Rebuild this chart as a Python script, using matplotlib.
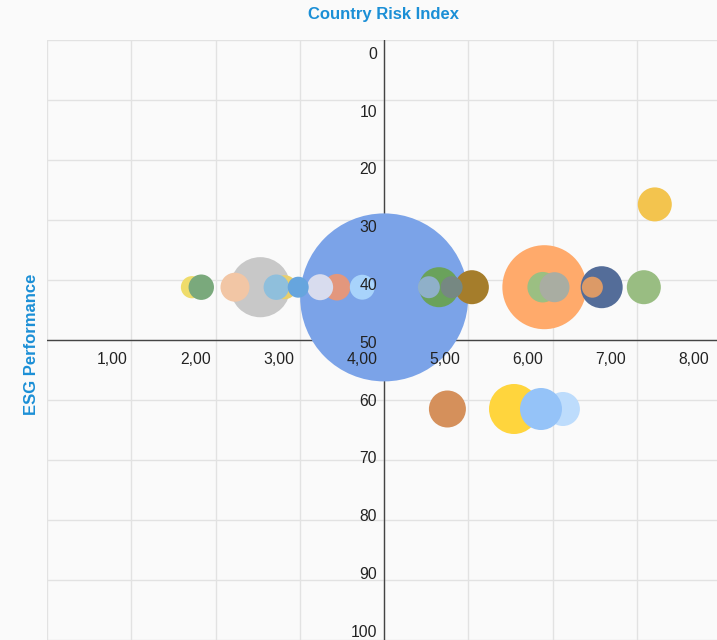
import numpy as np
import matplotlib
matplotlib.use('Agg')
import matplotlib.pyplot as plt

plt.rcParams['font.family'] = ['Liberation Sans', 'DejaVu Sans']

# bubble data (list order = drawing order)
risk = [4.00, 5.90, 2.53, 5.54, 6.12, 5.86, 6.58, 4.65, 4.75, 7.21, 7.08, 5.04, 5.88,
        6.02, 2.23, 3.44, 2.82, 2.72, 3.24, 3.74, 1.72, 1.83, 4.53, 4.80, 2.98, 6.47]
esg = [42.9, 41.2, 41.2, 61.5, 61.5, 61.5, 41.2, 41.2, 61.5, 27.4, 41.2, 41.2, 41.2,
       41.2, 41.2, 41.2, 41.2, 41.2, 41.2, 41.2, 41.2, 41.2, 41.2, 41.2, 41.2, 41.2]
weight = [100, 25, 12.8, 8.86, 4.1, 6.25, 6.25, 5.67, 4.85, 4.1, 4.1, 4.1, 3.3,
          3.19, 2.98, 2.5, 2.04, 2.29, 2.4, 2.2, 1.75, 2.29, 1.71, 1.71, 1.56, 1.56]
colors = ['#7ba3e8', '#ffaa6b', '#c8c8c8', '#ffd53d', '#bddcfc', '#95c3f8', '#546d99',
          '#6aa25b', '#d5905b', '#f3c44e', '#99bd82', '#a57d2b', '#9bbf82', '#a9ada2',
          '#f2c6a5', '#e3977d', '#e9cf6c', '#8fbfdc', '#d8dcee', '#a8d3fb', '#efdc6b',
          '#7aa97c', '#8fb0c9', '#768882', '#66a5de', '#dc9a67']

x_ticks = [1, 2, 3, 4, 5, 6, 7, 8]
y_ticks = [0, 10, 20, 30, 40, 50, 60, 70, 80, 90, 100]

W, H, DPI = 717, 640, 100
bg = '#fafafa'
blue_txt = '#1b8fd6'
max_r = 84  # radius in px of the largest bubble

fig = plt.figure(figsize=(W/DPI, H/DPI), dpi=DPI, facecolor=bg)
ax = fig.add_axes([47/W, 0, 670/W, 600/H], facecolor=bg)

ax.set_xlim(0, 7.948)
ax.set_ylim(99.4, 0)
ax.set_xticks(range(0, 8))
ax.set_yticks(y_ticks)
ax.tick_params(length=0, labelbottom=False, labelleft=False)
ax.grid(True, color='#e2e2e2', linewidth=1.0, zorder=0)
ax.set_axisbelow(True)
for s in ax.spines.values():
    s.set_visible(False)

ax.axvline(4.0, color='#444444', linewidth=1.0, zorder=1)
ax.axhline(50, color='#444444', linewidth=1.0, zorder=1)

r_pt = max_r * np.sqrt(np.array(weight) / 100.0) * 72.0 / DPI
ax.scatter(risk, esg, s=(2*r_pt)**2, c=colors, edgecolors='none', zorder=2)

# tick labels sit on the crossing axes, slightly offset from the grid
lab_y = ax.twinx()
lab_y.set_ylim(101.6, -2.2)
lab_y.set_yticks(y_ticks)
lab_y.yaxis.set_ticks_position('left')
lab_y.spines['left'].set_position(('data', 4.0))
lab_y.tick_params(length=0, pad=5, labelsize=11.3, labelcolor='#222222')
for s in lab_y.spines.values():
    s.set_color('none')

lab_x = ax.twiny()
lab_x.set_xlim(0.212, 8.274)
lab_x.set_xticks(x_ticks)
lab_x.set_xticklabels(['%.2f' % v for v in x_ticks])
lab_x.set_xticklabels([t.get_text().replace('.', ',') for t in lab_x.get_xticklabels()])
lab_x.xaxis.set_ticks_position('bottom')
lab_x.spines['bottom'].set_position(('data', 50))
lab_x.tick_params(length=0, pad=9, labelsize=11.3, labelcolor='#222222')
for s in lab_x.spines.values():
    s.set_color('none')

fig.text(383/W, 1 - 14/H, 'Country Risk Index', ha='center', va='center',
         fontsize=12, fontweight='bold', color=blue_txt)
fig.text(32/W, 1 - 344/H, 'ESG Performance', ha='center', va='center', rotation=90,
         fontsize=12, fontweight='bold', color=blue_txt)

fig.savefig('out.png', dpi=DPI, facecolor=bg)
